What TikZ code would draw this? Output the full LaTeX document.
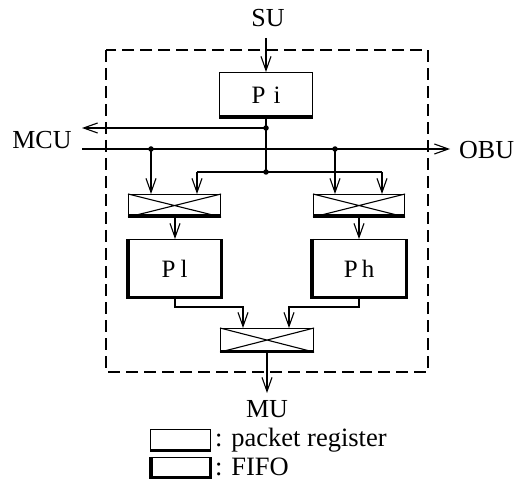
\documentclass[tikz,border=0pt]{standalone}
\usepackage{fontspec}
\setmainfont{Liberation Serif}
\usetikzlibrary{arrows.meta}
\tikzset{
  thin line/.style={line width=1.1pt},
  thick edge/.style={line width=3.2pt, line cap=butt, line join=miter},
  arr/.style={thin line, -{Straight Barb[length=14pt,width=10pt,line width=1.1pt]}},
  lbl/.style={font=\fontsize{26}{30}\selectfont, inner sep=0pt},
  boxlbl/.style={font=\fontsize{25}{28}\selectfont, inner sep=0pt},
  legtxt/.style={font=\fontsize{26.5}{30}\selectfont, inner sep=0pt, anchor=west},
  junction/.style={circle, fill=black, inner sep=0pt, minimum size=5.5pt},
  regbox/.style={draw, thin line, inner sep=0pt, anchor=north west},
}
\newcommand{\preg}[1]{\draw[thick edge] ([yshift=1pt]#1.south west) -- ([yshift=1pt]#1.south east);}
\newcommand{\fifo}[1]{\draw[thick edge] ([xshift=1pt]#1.north west) -- ([shift={(1pt,1pt)}]#1.south west) -- ([shift={(-1pt,1pt)}]#1.south east) -- ([xshift=-1pt]#1.north east);}
\newcommand{\muxx}[1]{\draw[thin line] (#1.north west) -- (#1.south east) (#1.south west) -- (#1.north east);}
\begin{document}
\begin{tikzpicture}[x=1pt,y=-1pt]
\useasboundingbox[fill=white] (0,0) rectangle (527,486);
% enclosing dashed box
\draw[line width=2pt, dash pattern=on 12pt off 6pt] (106,50) rectangle (428,372);

% labels
\node[lbl] (su) at (268,18) {SU};
\node[lbl] (mcu) at (42,140) {MCU};
\node[lbl, anchor=west] (obu) at (459,150) {OBU};
\node[lbl] (mu) at (267,409) {MU};

% boxes
\node[regbox, minimum width=93pt, minimum height=45pt] (pi) at (219,72) {};
\node[boxlbl] at (pi.center) {P\hspace{8pt}i};
\preg{pi}

\node[regbox, minimum width=92pt, minimum height=22pt] (ml) at (128,194) {};
\muxx{ml}\preg{ml}
\node[regbox, minimum width=91pt, minimum height=22pt] (mr) at (313,194) {};
\muxx{mr}\preg{mr}
\node[regbox, minimum width=93pt, minimum height=23pt] (mb) at (220,328) {};
\muxx{mb}\preg{mb}

\node[regbox, minimum width=94pt, minimum height=58pt] (pl) at (127,239) {};
\node[boxlbl] at (pl.center) {P\hspace{5pt}l};
\fifo{pl}
\node[regbox, minimum width=95pt, minimum height=58pt] (ph) at (311,239) {};
\node[boxlbl] at (ph.center) {P\hspace{4pt}h};
\fifo{ph}

% junctions and free ends
\node[junction] (j1) at (266,128) {};
\node[junction] (j2) at (266,172) {};
\node[junction] (d1) at (151,149) {};
\node[junction] (d2) at (335,149) {};
\coordinate (suend) at (266,38);
\coordinate (mcuend) at (82,128);
\coordinate (obustart) at (82,149);
\coordinate (obuend) at (450,149);
\coordinate (busl) at (197,172);
\coordinate (busr) at (382,172);
\coordinate (muend) at (267,393);

% connectors
\draw[arr] (suend) -- (pi.north -| suend);
\draw[thin line] (pi.south -| j1) -- (j1.center) -- (j2.center);
\draw[arr] (j1.center) -- (mcuend);
\draw[arr] (obustart) -- (obuend);
\draw[thin line] (busl) -- (busr);
\draw[arr] (d1.center) -- (ml.north -| d1);
\draw[arr] (busl) -- (ml.north -| busl);
\draw[arr] (d2.center) -- (mr.north -| d2);
\draw[arr] (busr) -- (mr.north -| busr);
\draw[arr] (175,216) -- (175,239);
\draw[arr] (359,216) -- (359,239);
\draw[arr] (pl.south -| 175,0) -- (175,307) -- (243,307) -- (mb.north -| 243,0);
\draw[arr] (ph.south -| 359,0) -- (359,307) -- (289,307) -- (mb.north -| 289,0);
\draw[arr] (mb.south -| muend) -- (muend);

% legend
\node[regbox, minimum width=60pt, minimum height=21pt] (lg1) at (150,429) {};
\preg{lg1}
\node[legtxt] (lt1) at (215,440) {: packet register};
\node[regbox, minimum width=60pt, minimum height=20pt] (lg2) at (150,457) {};
\fifo{lg2}
\node[legtxt] (lt2) at (215,467) {: FIFO};
\end{tikzpicture}
\end{document}
